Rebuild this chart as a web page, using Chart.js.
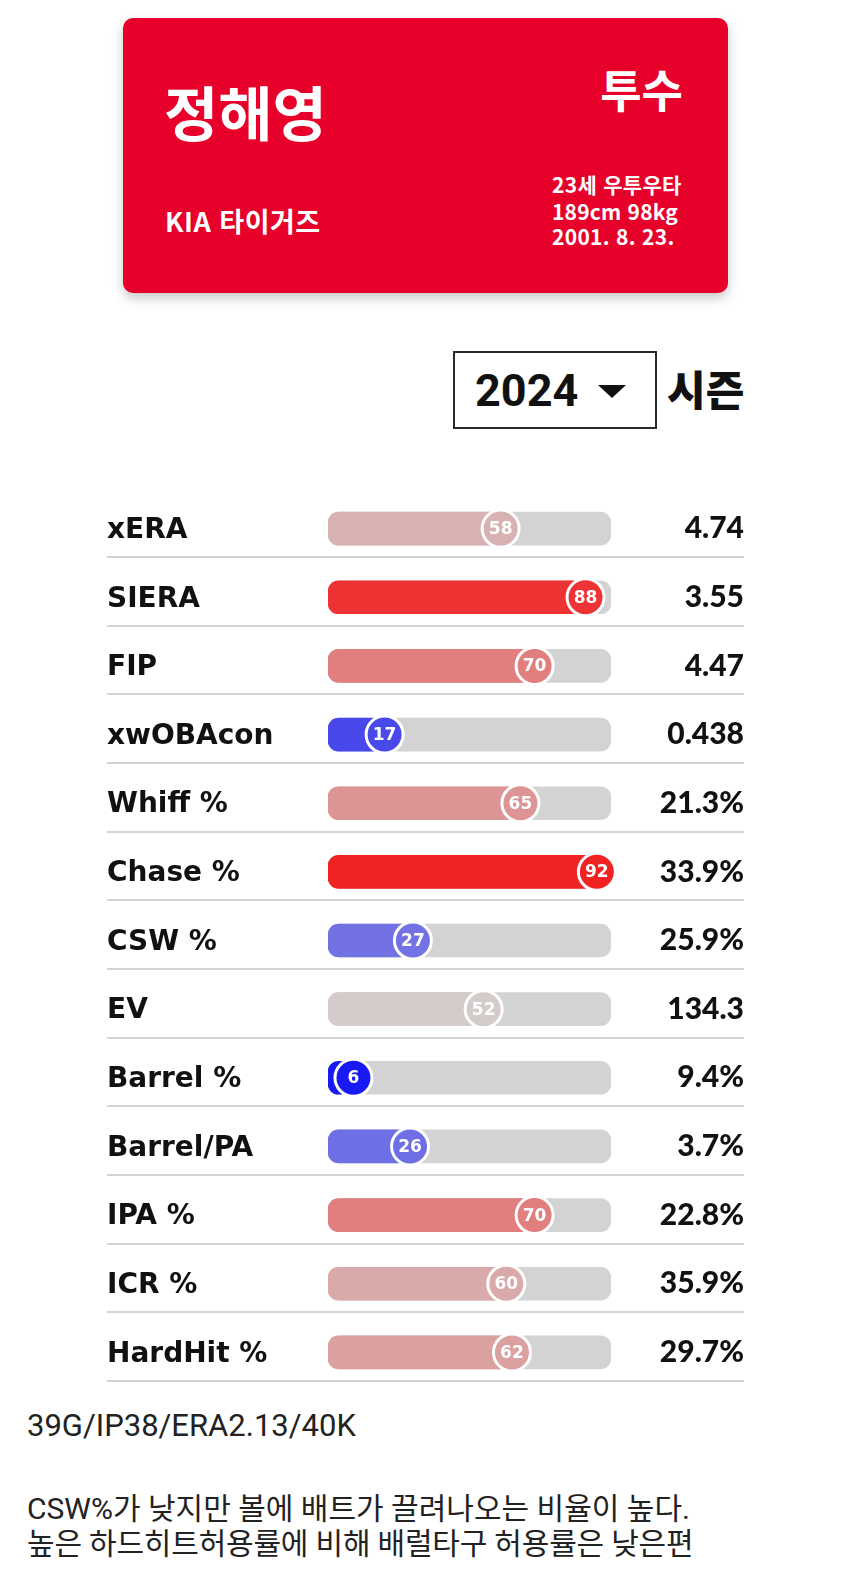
<!DOCTYPE html>
<html lang="ko">
<head>
<meta charset="utf-8">
<title>정해영 2024</title>
<script src="https://cdn.jsdelivr.net/npm/chart.js@4.4.1/dist/chart.umd.min.js"></script>
<style>
  html, body { margin: 0; padding: 0; background: #fff; }
  #page { position: relative; width: 850px; height: 1581px; overflow: hidden; font-family: "Noto Sans CJK KR", Roboto, sans-serif; }
  .abs { position: absolute; white-space: nowrap; line-height: 1; }
  #card { position: absolute; left: 123px; top: 18px; width: 605px; height: 275px; background: #e6002a; border-radius: 10px; box-shadow: 0 5px 12px rgba(0,0,0,0.22); }
  .card-txt { color: #fff; font-weight: 700; }
  #season { position: absolute; left: 453px; top: 351px; width: 200px; height: 74px; border: 2px solid #2a2a2a; }
  #rows { position: absolute; left: 0; top: 494px; }
  .foot { color: #222; font-family: Roboto, "Noto Sans CJK KR", sans-serif; font-size: 30px; }
</style>
</head>
<body>
<div id="page">
  <div id="card"></div>
  <div class="abs card-txt" style="left:164px; top:81px; font-size:59px;">정해영</div>
  <div class="abs card-txt" style="right:167px; top:66px; font-size:45px;">투수</div>
  <div class="abs card-txt" style="left:165px; top:207px; font-size:27px; letter-spacing:0.5px;">KIA 타이거즈</div>
  <div class="abs card-txt" style="left:552px; top:174px; font-size:21px; letter-spacing:0.3px;">23세 우투우타</div>
  <div class="abs card-txt" style="left:552px; top:201px; font-size:21px; letter-spacing:0.2px;">189cm 98kg</div>
  <div class="abs card-txt" style="left:552px; top:226px; font-size:21px; letter-spacing:0.3px;">2001. 8. 23.</div>

  <div id="season"></div>
  <div class="abs" style="left:475px; top:368px; font-family:Roboto, sans-serif; font-weight:700; font-size:45px; color:#111;">2024</div>
  <div class="abs" style="left:598px; top:385px; width:0; height:0; border-left:14px solid transparent; border-right:14px solid transparent; border-top:13px solid #111;"></div>
  <div class="abs" style="left:667px; top:367px; font-weight:900; font-size:42px; color:#111;">시즌</div>

  <canvas id="rows" width="850" height="893"></canvas>

  <div class="abs foot" style="left:27px; top:1410px; font-size:31px;">39G/IP38/ERA2.13/40K</div>
  <div class="abs foot" style="left:27px; top:1494px;">CSW%가 낮지만 볼에 배트가 끌려나오는 비율이 높다.</div>
  <div class="abs foot" style="left:27px; top:1529px; letter-spacing:-0.2px;">높은 하드히트허용률에 비해 배럴타구 허용률은 낮은편</div>
</div>

<script>
// 지표 이름 / 백분위 / 실제 기록
const metrics = ['xERA', 'SIERA', 'FIP', 'xwOBAcon', 'Whiff %', 'Chase %', 'CSW %', 'EV', 'Barrel %', 'Barrel/PA', 'IPA %', 'ICR %', 'HardHit %'];
const percentiles = [58, 88, 70, 17, 65, 92, 27, 52, 6, 26, 70, 60, 62];
const statValues = ['4.74', '3.55', '4.47', '0.438', '21.3%', '33.9%', '25.9%', '134.3', '9.4%', '3.7%', '22.8%', '35.9%', '29.7%'];

// 트랙 범위 (scale 단위)
const TRACK_MIN = -3;
const TRACK_MAX = 97;

// 백분위 -> 색 (파랑 - 회색 - 빨강)
function pctColor(p) {
    const grey = [211, 211, 211], hi = [245, 0, 0], lo = [0, 0, 248];
    const t = Math.abs(p - 50) / 50;
    const end = p >= 50 ? hi : lo;
    const c = grey.map((g, k) => Math.round(g + (end[k] - g) * t));
    return `rgb(${c[0]},${c[1]},${c[2]})`;
}

// 구분선
const separatorPlugin = {
    id: 'separators',
    beforeDatasetsDraw(chart) {
        const ctx = chart.ctx;
        const y = chart.scales.y;
        ctx.save();
        ctx.strokeStyle = '#d4d4d4';
        ctx.lineWidth = 2;
        metrics.forEach((m, i) => {
            const py = Math.round(y.getPixelForValue(i) + 28.5);
            ctx.beginPath();
            ctx.moveTo(107, py);
            ctx.lineTo(744, py);
            ctx.stroke();
        });
        ctx.restore();
    }
};

// 동그라미 안 숫자
const bubbleTextPlugin = {
    id: 'bubbleText',
    afterDatasetsDraw(chart) {
        const ctx = chart.ctx;
        const meta = chart.getDatasetMeta(2);
        ctx.save();
        ctx.fillStyle = '#fff';
        ctx.font = 'bold 17px "DejaVu Sans"';
        ctx.textAlign = 'center';
        ctx.textBaseline = 'middle';
        meta.data.forEach((pt, i) => {
            ctx.fillText(String(percentiles[i]), pt.x, pt.y + 1);
        });
        ctx.restore();
    }
};

const ctx = document.getElementById('rows').getContext('2d');
new Chart(ctx, {
    type: 'bar',
    data: {
        labels: metrics,
        datasets: [
            {
                label: 'track',
                data: metrics.map(() => [TRACK_MIN, TRACK_MAX]),
                backgroundColor: '#d3d3d3',
                borderRadius: 11,
                borderSkipped: false,
                barThickness: 33,
                grouped: false,
                order: 2
            },
            {
                label: 'fill',
                data: percentiles.map(p => [TRACK_MIN, p]),
                backgroundColor: percentiles.map(pctColor),
                borderRadius: 11,
                borderSkipped: false,
                barThickness: 33,
                grouped: false,
                order: 1
            },
            {
                type: 'scatter',
                label: 'pct',
                data: percentiles.map((p, i) => ({ x: p, y: metrics[i] })),
                backgroundColor: percentiles.map(pctColor),
                borderColor: '#ffffff',
                borderWidth: 3,
                pointRadius: 18.5,
                pointHoverRadius: 18.5,
                showLine: false,
                clip: false,
                order: 0
            }
        ]
    },
    options: {
        indexAxis: 'y',
        responsive: false,
        animation: false,
        events: [],
        layout: { autoPadding: false, padding: { left: 107, right: 106, top: 0, bottom: 0 } },
        plugins: {
            legend: { display: false },
            tooltip: { enabled: false }
        },
        scales: {
            x: {
                type: 'linear',
                min: TRACK_MIN,
                max: TRACK_MAX,
                display: false
            },
            y: {
                type: 'category',
                position: 'left',
                offset: true,
                grid: { display: false },
                border: { display: false },
                afterFit: s => { s.width = 221; },
                ticks: {
                    crossAlign: 'far',
                    autoSkip: false,
                    padding: 0,
                    color: '#111',
                    labelOffset: 2,
                    // lineHeight 작게 -> 위아래 여백 없음
                    font: { family: 'DejaVu Sans', weight: 'bold', size: 28, lineHeight: 0.02 }
                }
            },
            y2: {
                type: 'category',
                position: 'right',
                labels: statValues,
                offset: true,
                grid: { display: false },
                border: { display: false },
                afterFit: s => { s.width = 133; },
                ticks: {
                    crossAlign: 'far',
                    autoSkip: false,
                    padding: 0,
                    color: '#111',
                    labelOffset: 0,
                    font: { family: 'Lato', weight: 900, size: 30, lineHeight: 0.02 }
                }
            }
        }
    },
    plugins: [separatorPlugin, bubbleTextPlugin]
});
</script>
</body>
</html>
